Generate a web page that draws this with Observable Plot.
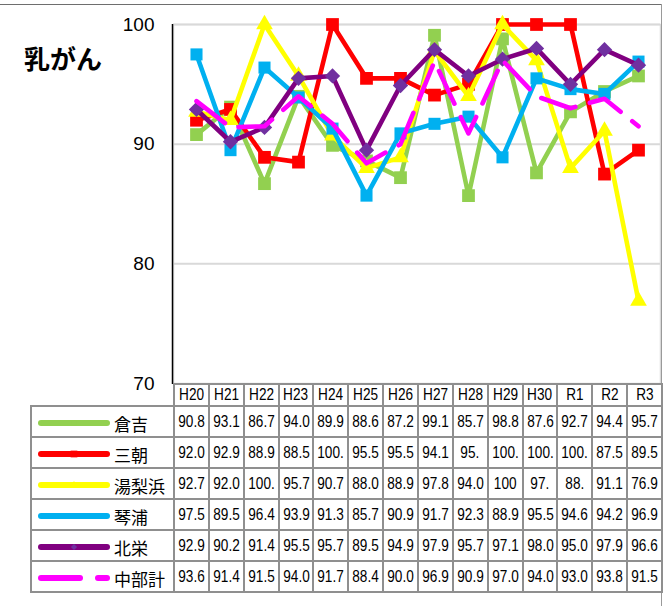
<!DOCTYPE html>
<html>
<head>
<meta charset="utf-8">
<script src="https://cdn.jsdelivr.net/npm/d3@7"></script>
<script src="https://cdn.jsdelivr.net/npm/@observablehq/plot@0.6"></script>
<style>
  html, body { margin: 0; padding: 0; background: #fff; }
  #wrap { position: relative; width: 668px; height: 606px; overflow: hidden; background: #fff; }
  #topline { position: absolute; left: 0; top: 4px; width: 662px; height: 0; border-top: 1px solid #6e6e6e; }
  #rightline { position: absolute; left: 661px; top: 4px; width: 0; height: 602px; border-left: 1px solid #9a9a9a; }
  #title { position: absolute; left: 24px; top: 43px; font-family: "Noto Sans CJK JP", sans-serif; font-weight: 700; font-size: 26px; line-height: 30px; color: #000; }
  #chart { position: absolute; left: 0; top: 0; }
  #tbl { position: absolute; left: 30px; top: 383px; border-collapse: collapse; table-layout: fixed; width: 631px; }
  #tbl td { border: 2px solid #8f8f8f; padding: 0; text-align: center; white-space: nowrap; overflow: hidden;
            font-family: "Liberation Sans", Arial, sans-serif; font-size: 17px; color: #000; }
  #tbl td span.v { display: inline-block; transform: scaleX(0.8); transform-origin: 50% 50%; }
  #tbl tr.head td { height: 20px; }
  #tbl tr.row td { height: 29px; }
  #tbl td.blank { border: none; border-right: 2px solid #8f8f8f; }
  #tbl td.leg { text-align: left; font-family: "Noto Sans CJK JP", sans-serif; font-size: 17px; }
  #tbl td.leg svg { vertical-align: middle; margin-left: 6px; margin-right: 4px; }
  #tbl td.leg span { vertical-align: middle; }
</style>
</head>
<body>
<div id="wrap">
  <div id="chart"></div>
  <div id="topline"></div>
  <div id="rightline"></div>
  <div id="title">乳がん</div>
</div>
<script>
// ---- data ----
const years = ["H20","H21","H22","H23","H24","H25","H26","H27","H28","H29","H30","R1","R2","R3"];
const kurayoshi = [90.8, 93.1, 86.7, 94.0, 89.9, 88.6, 87.2, 99.1, 85.7, 98.8, 87.6, 92.7, 94.4, 95.7];
const misasa    = [92.0, 92.9, 88.9, 88.5, 100.0, 95.5, 95.5, 94.1, 95.0, 100.0, 100.0, 100.0, 87.5, 89.5];
const yurihama  = [92.7, 92.0, 100.0, 95.7, 90.7, 88.0, 88.9, 97.8, 94.0, 100.0, 97.0, 88.0, 91.1, 76.9];
const kotoura   = [97.5, 89.5, 96.4, 93.9, 91.3, 85.7, 90.9, 91.7, 92.3, 88.9, 95.5, 94.6, 94.2, 96.9];
const hokuei    = [92.9, 90.2, 91.4, 95.5, 95.7, 89.5, 94.9, 97.9, 95.7, 97.1, 98.0, 95.0, 97.9, 96.6];
const chubu     = [93.6, 91.4, 91.5, 94.0, 91.7, 88.4, 90.0, 96.9, 90.9, 97.0, 94.0, 93.0, 93.8, 91.5];
const yTicks = [70, 80, 90, 100];
// cells whose text the reference shows truncated
const shownText = {"三朝|H28": "95.", "湯梨浜|H29": "100", "湯梨浜|H30": "97.", "湯梨浜|R1": "88."};

const series = [
  {name: "倉吉",   values: kurayoshi, line: "#92D050", fill: "#92D050", symbol: "square",   r: 7.2, lr: 3.2},
  {name: "三朝",   values: misasa,    line: "#FF0000", fill: "#FF0000", symbol: "square",   r: 7.2, lr: 3.8},
  {name: "湯梨浜", values: yurihama,  line: "#FFFF00", fill: "#FFFF00", symbol: "triangle", r: 6.2, lr: 2.6},
  {name: "琴浦",   values: kotoura,   line: "#00B0F0", fill: "#00B0F0", symbol: "square",   r: 6.8, lr: 3.2},
  {name: "北栄",   values: hokuei,    line: "#800080", fill: "#7030A0", symbol: "diamond2", r: 6.9, lr: 2.8},
  {name: "中部計", values: chubu,     line: "#FF00FF", fill: null,      symbol: null,       r: 0,   lr: 0, dash: "36,15"}
];

const rows = [];
series.forEach(s => s.values.forEach((v, i) => rows.push({series: s.name, year: years[i], value: v})));

const W = 668, H = 384;
const marks = [
  Plot.frame({stroke: "#d9d9d9", strokeWidth: 1.5}),
  Plot.ruleY(yTicks.filter(t => t > 70), {stroke: "#d9d9d9", strokeWidth: 2})
];
series.forEach(s => {
  const d = rows.filter(r => r.series === s.name);
  marks.push(Plot.line(d, {x: "year", y: "value", stroke: s.line, strokeWidth: 4.6,
    strokeLinejoin: "round", strokeLinecap: s.dash ? "round" : "butt", strokeDasharray: s.dash}));
  if (s.symbol) marks.push(Plot.dot(d, {x: "year", y: "value", symbol: s.symbol, r: s.r, fill: s.fill, stroke: "none"}));
});

const chart = Plot.plot({
  width: W, height: H,
  marginLeft: 173, marginRight: 8, marginTop: 24, marginBottom: 1,
  style: {fontFamily: "Liberation Sans, Arial, sans-serif", fontSize: "19px", color: "#000", background: "transparent", overflow: "visible"},
  x: {type: "point", domain: years, padding: 0.5, axis: null},
  y: {domain: [70, 100], ticks: yTicks, tickSize: 0, tickPadding: 19, label: null, tickFormat: d => String(d)},
  marks
});
document.getElementById("chart").appendChild(chart);

// black left axis line
const svg = d3.select(chart);
svg.append("line").attr("x1", 172.5).attr("x2", 172.5).attr("y1", 24).attr("y2", 384)
  .attr("stroke", "#000").attr("stroke-width", 1.5);

// ---- data table (legend + values) ----
const tbl = document.createElement("table");
tbl.id = "tbl";
const cg = document.createElement("colgroup");
const c0 = document.createElement("col"); c0.style.width = "143px"; cg.appendChild(c0);
years.forEach(() => { const c = document.createElement("col"); c.style.width = "34.86px"; cg.appendChild(c); });
tbl.appendChild(cg);

function cellText(td, t) {
  const sp = document.createElement("span"); sp.className = "v"; sp.textContent = t; td.appendChild(sp);
}

const head = document.createElement("tr"); head.className = "head";
const b = document.createElement("td"); b.className = "blank"; head.appendChild(b);
years.forEach(y => { const td = document.createElement("td"); cellText(td, y); head.appendChild(td); });
tbl.appendChild(head);

function swatch(s) {
  const sv = d3.create("svg").attr("width", 72).attr("height", 14);
  if (s.dash) {
    sv.append("line").attr("x1", 3).attr("x2", 42).attr("y1", 7).attr("y2", 7)
      .attr("stroke", s.line).attr("stroke-width", 6).attr("stroke-linecap", "round");
    sv.append("line").attr("x1", 60).attr("x2", 69).attr("y1", 7).attr("y2", 7)
      .attr("stroke", s.line).attr("stroke-width", 6).attr("stroke-linecap", "round");
  } else {
    sv.append("line").attr("x1", 3).attr("x2", 69).attr("y1", 7).attr("y2", 7)
      .attr("stroke", s.line).attr("stroke-width", 6).attr("stroke-linecap", "round");
    const symMap = {square: d3.symbolSquare, triangle: d3.symbolTriangle, diamond2: d3.symbolDiamond2};
    sv.append("path").attr("transform", "translate(36,7)")
      .attr("d", d3.symbol(symMap[s.symbol], Math.PI * s.lr * s.lr)())
      .attr("fill", s.fill);
  }
  return sv.node();
}

series.forEach(s => {
  const tr = document.createElement("tr"); tr.className = "row";
  const lg = document.createElement("td"); lg.className = "leg";
  lg.appendChild(swatch(s));
  const sp = document.createElement("span"); sp.textContent = s.name; lg.appendChild(sp);
  tr.appendChild(lg);
  s.values.forEach((v, i) => {
    const td = document.createElement("td");
    const key = s.name + "|" + years[i];
    let t = shownText[key] || v.toFixed(1);
    if (t.length > 4) t = t.slice(0, 4);
    cellText(td, t);
    tr.appendChild(td);
  });
  tbl.appendChild(tr);
});
document.getElementById("wrap").appendChild(tbl);
</script>
</body>
</html>
